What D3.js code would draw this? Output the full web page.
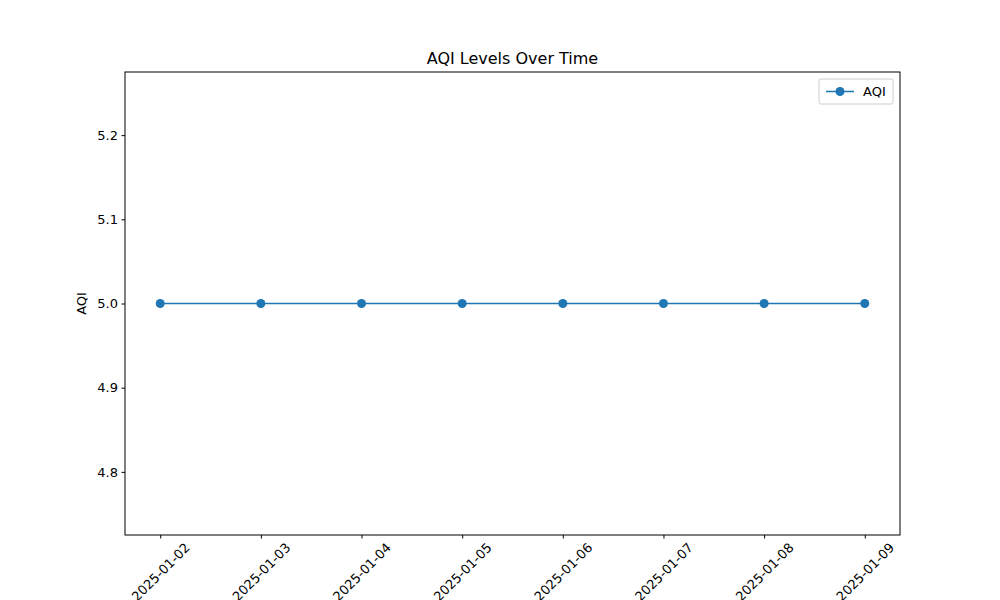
<!DOCTYPE html>
<html lang="en">
<head>
<meta charset="UTF-8">
<script src="https://d3js.org/d3.v7.min.js"></script>
<style>
  body { margin: 0; background: #fff; }
  text { font-family: "DejaVu Sans", sans-serif; fill: #000; }
</style>
</head>
<body>
<svg id="chart" width="1000" height="600"></svg>
<script>
const dates = ["2025-01-02", "2025-01-03", "2025-01-04", "2025-01-05",
               "2025-01-06", "2025-01-07", "2025-01-08", "2025-01-09"];
const aqi = [5, 5, 5, 5, 5, 5, 5, 5];
const yTicks = [4.8, 4.9, 5.0, 5.1, 5.2];

const svg = d3.select("#chart");
const mLeft = 125, mRight = 900, mTop = 72, mBottom = 535;
const parse = d3.utcParse("%Y-%m-%d");
const data = dates.map((d, i) => ({ date: parse(d), label: d, value: aqi[i] }));

const t0 = data[0].date, t1 = data[data.length - 1].date;
const pad = (t1 - t0) * 0.05;
const x = d3.scaleUtc().domain([new Date(+t0 - pad), new Date(+t1 + pad)]).range([mLeft, mRight]);
const y = d3.scaleLinear().domain([4.725, 5.275]).range([mBottom, mTop]);

// axes
const xAxis = svg.append("g").attr("transform", `translate(0,${mBottom})`)
  .call(d3.axisBottom(x).tickValues(data.map(d => d.date)).tickSize(3.5).tickFormat(""));
xAxis.selectAll(".tick").append("text")
  .attr("transform", "translate(0,37) rotate(-45)")
  .attr("text-anchor", "middle").attr("dy", "0.35em")
  .style("font-size", "13px")
  .text((d, i) => dates[i]);

const yAxis = svg.append("g").attr("transform", `translate(${mLeft},0)`)
  .call(d3.axisLeft(y).tickValues(yTicks).tickSize(3.5).tickFormat(d3.format(".1f")));
yAxis.selectAll("text").style("font-size", "13px").attr("x", -7);

svg.selectAll(".domain").remove();
svg.selectAll(".tick line").attr("stroke", "#000");
svg.append("rect").attr("x", mLeft).attr("y", mTop).attr("width", mRight - mLeft).attr("height", mBottom - mTop)
  .attr("fill", "none").attr("stroke", "#000").attr("stroke-width", 1);

// line + markers
svg.append("path").datum(data)
  .attr("fill", "none").attr("stroke", "#1f77b4").attr("stroke-width", 1.5)
  .attr("d", d3.line().x(d => x(d.date)).y(d => y(d.value)));
svg.selectAll(".pt").data(data).enter().append("circle")
  .attr("cx", d => x(d.date)).attr("cy", d => y(d.value)).attr("r", 4.5)
  .attr("fill", "#1f77b4");

// labels
svg.append("text").attr("x", (mLeft + mRight) / 2).attr("y", mTop - 8)
  .attr("text-anchor", "middle").style("font-size", "16px").text("AQI Levels Over Time");
svg.append("text").attr("transform", `translate(86,${(mTop + mBottom) / 2}) rotate(-90)`)
  .attr("text-anchor", "middle").style("font-size", "13px").text("AQI");

// legend
const lg = svg.append("g").attr("transform", "translate(819,79)");
lg.append("rect").attr("width", 74).attr("height", 25).attr("rx", 2)
  .attr("fill", "#fff").attr("stroke", "#ccc");
lg.append("line").attr("x1", 7).attr("x2", 35).attr("y1", 12.5).attr("y2", 12.5)
  .attr("stroke", "#1f77b4").attr("stroke-width", 1.5);
lg.append("circle").attr("cx", 21).attr("cy", 12.5).attr("r", 4.5).attr("fill", "#1f77b4");
lg.append("text").attr("x", 44).attr("y", 12.5).attr("dy", "0.35em").style("font-size", "13px").text("AQI");
</script>
</body>
</html>
